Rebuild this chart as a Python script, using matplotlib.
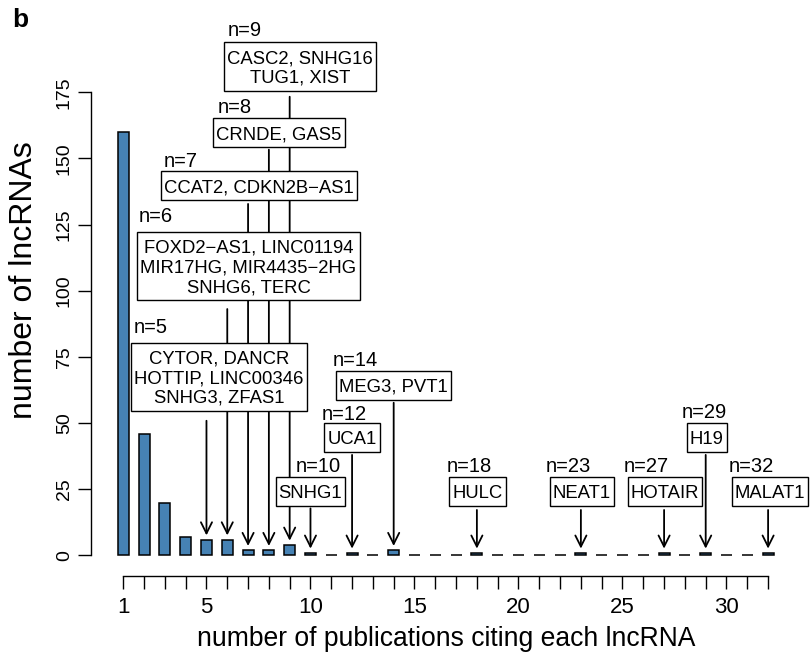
import matplotlib
matplotlib.use('Agg')
import matplotlib.pyplot as plt
from matplotlib.patches import Rectangle
import numpy as np

plt.rcParams['font.family'] = ['Liberation Sans', 'DejaVu Sans']

# number of publications citing a lncRNA -> how many lncRNAs have that count
n_pubs = np.arange(1, 33)
n_lncrnas = [160, 46, 20, 7, 6, 6, 2, 2, 4, 1, 0, 1, 0, 2, 0, 0,
             0, 1, 0, 0, 0, 0, 1, 0, 0, 0, 1, 0, 1, 0, 0, 1]

# lncRNAs named for every count of 5 publications or more
named = {
    5: ['CYTOR', 'DANCR', 'HOTTIP', 'LINC00346', 'SNHG3', 'ZFAS1'],
    6: ['FOXD2-AS1', 'LINC01194', 'MIR17HG', 'MIR4435-2HG', 'SNHG6', 'TERC'],
    7: ['CCAT2', 'CDKN2B-AS1'],
    8: ['CRNDE', 'GAS5'],
    9: ['CASC2', 'SNHG16', 'TUG1', 'XIST'],
    10: ['SNHG1'],
    12: ['UCA1'],
    14: ['MEG3', 'PVT1'],
    18: ['HULC'],
    23: ['NEAT1'],
    27: ['HOTAIR'],
    29: ['H19'],
    32: ['MALAT1'],
}

x_ticks = np.arange(1, 33)
x_ticklabels = ['1' if t == 1 else (str(t) if t % 5 == 0 else '') for t in x_ticks]
y_ticks = np.arange(0, 176, 25)

# where each label box sits: box centre (x, y), "n=" label (x, y), arrow start y
layout = {
    5: (5.60, 67.9, 1.48, 83.9, 50.9),
    6: (7.02, 109.7, 1.72, 125.9, 93.1),
    7: (7.52, 140.0, 2.96, 146.9, 132.8),
    8: (8.49, 160.0, 5.52, 167.1, 153.3),
    9: (9.50, 185.1, 6.02, 196.3, 173.3),
    10: (10.0, 24.6, 9.29, 31.7, 17.8),
    12: (12.0, 44.8, 10.54, 51.2, 38.0),
    14: (14.0, 64.7, 11.05, 71.7, 57.7),
    18: (18.03, 24.7, 16.55, 31.7, 17.2),
    23: (23.04, 24.7, 21.32, 31.7, 17.2),
    27: (27.04, 24.7, 25.07, 31.7, 17.2),
    29: (29.05, 44.8, 27.85, 51.8, 38.0),
    32: (32.09, 24.7, 30.09, 31.7, 17.2),
}

W, H = 811, 653
fig = plt.figure(figsize=(W / 100, H / 100), dpi=100)
ax = fig.add_axes([0.1118, 0.0965, 0.8808, 0.8959])

ax.bar(n_pubs, n_lncrnas, width=0.53, color='#4682B4', edgecolor='black',
       linewidth=1.1, zorder=3)

ax.set_xlim(-0.567, 33.774)
ax.set_ylim(-13.03, 207.97)

for s in ['top', 'right']:
    ax.spines[s].set_visible(False)
ax.spines['left'].set_bounds(0, 175)
ax.spines['bottom'].set_position(('data', -7.745))
ax.spines['bottom'].set_bounds(1, 32)
for s in ['left', 'bottom']:
    ax.spines[s].set_linewidth(1.0)

ax.set_xticks(x_ticks)
ax.set_xticklabels(x_ticklabels, fontsize=16)
ax.set_yticks(y_ticks)
ax.set_yticklabels([str(v) for v in y_ticks], fontsize=14, rotation=90, va='center')
ax.tick_params(axis='x', length=9.4, width=1.0, pad=6)
ax.tick_params(axis='y', length=9.4, width=1.0, pad=3.5)

# axis titles placed like R's mtext
fig.text(446 / W, 1 - 646 / H, 'number of publications citing each lncRNA',
         fontsize=19.1, ha='center', va='baseline')
fig.text(24 / W, 1 - 280 / H, 'number of lncRNAs', fontsize=23,
         rotation=90, ha='center', va='center')

counts = dict(zip(n_pubs, n_lncrnas))
for n in sorted(named):
    bx, by, lx, ly, y0 = layout[n]
    ax.annotate('', xy=(n, counts[n] + 1.6), xytext=(n, y0),
                arrowprops=dict(arrowstyle='->', lw=1.3, color='black',
                                mutation_scale=20, shrinkA=0, shrinkB=0),
                zorder=2, annotation_clip=False)

labels = []
for n in sorted(named):
    bx, by, lx, ly, y0 = layout[n]
    names = [g.replace('-', '\u2212') for g in named[n]]
    lines = [', '.join(names[i:i + 2]) for i in range(0, len(names), 2)]
    # text sits a little low in its frame
    t = ax.text(bx, by - 1.1, '\n'.join(lines), ha='center', va='center',
                multialignment='center', fontsize=13.3, linespacing=1.2,
                zorder=6, clip_on=False)
    labels.append(t)
    ax.text(lx, ly, 'n=%d' % n, ha='left', va='baseline', fontsize=14.5,
            zorder=6, clip_on=False)

# white frames round the names
fig.canvas.draw()
renderer = fig.canvas.get_renderer()
inv = ax.transData.inverted()
for t in labels:
    bb = t.get_window_extent(renderer)
    (x0, y0), (x1, y1) = inv.transform([(bb.x0 - 3, bb.y0 - 4), (bb.x1 + 3, bb.y1 + 8)])
    ax.add_patch(Rectangle((x0, y0), x1 - x0, y1 - y0, fc='white', ec='black',
                           lw=1.0, zorder=5, clip_on=False))

fig.text(12 / W, 1 - 27 / H, 'b', fontsize=19, fontweight='bold',
         ha='left', va='baseline')

fig.savefig('out.png', dpi=100)
